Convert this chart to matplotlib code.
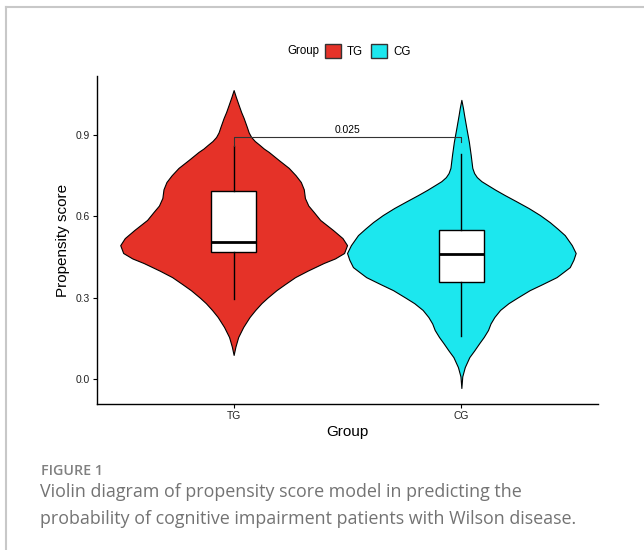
import numpy as np
import matplotlib.pyplot as plt
from matplotlib.patches import Rectangle
from matplotlib.lines import Line2D

# Groups and colours
groups = ["TG", "CG"]
colors = ["#E53228", "#1CE7EE"]

# Violin outlines: score value and half width (x units)
tg_y = [1.066, 1.040, 1.011, 0.985, 0.963, 0.930, 0.910, 0.893, 0.878, 0.865,
        0.850, 0.838, 0.808, 0.779, 0.752, 0.727, 0.700, 0.668, 0.640, 0.616,
        0.587, 0.550, 0.520, 0.494, 0.465, 0.445, 0.428, 0.400, 0.376, 0.350,
        0.328, 0.300, 0.280, 0.255, 0.229, 0.192, 0.155, 0.120, 0.089]
tg_w = [0.000, 0.010, 0.022, 0.033, 0.044, 0.058, 0.066, 0.077, 0.093, 0.112,
        0.133, 0.154, 0.198, 0.242, 0.272, 0.295, 0.308, 0.313, 0.328, 0.352,
        0.380, 0.436, 0.478, 0.498, 0.485, 0.445, 0.395, 0.325, 0.270, 0.225,
        0.188, 0.148, 0.122, 0.095, 0.070, 0.042, 0.020, 0.008, 0.000]

cg_y = [1.030, 1.000, 0.974, 0.926, 0.875, 0.827, 0.779, 0.760, 0.745, 0.730,
        0.716, 0.698, 0.679, 0.655, 0.631, 0.605, 0.579, 0.555, 0.531, 0.494,
        0.465, 0.440, 0.413, 0.395, 0.376, 0.350, 0.328, 0.300, 0.280, 0.255,
        0.229, 0.205, 0.181, 0.155, 0.133, 0.105, 0.081, 0.044, 0.010, -0.033]
cg_w = [0.000, 0.007, 0.012, 0.022, 0.033, 0.041, 0.048, 0.056, 0.068, 0.088,
        0.115, 0.150, 0.190, 0.243, 0.295, 0.345, 0.388, 0.422, 0.454, 0.485,
        0.502, 0.492, 0.476, 0.448, 0.418, 0.355, 0.300, 0.245, 0.207, 0.170,
        0.145, 0.128, 0.117, 0.098, 0.079, 0.056, 0.035, 0.015, 0.004, 0.000]

# Box plot statistics
q1 = [0.469, 0.358]
med = [0.506, 0.461]
q3 = [0.694, 0.550]
whislo = [0.295, 0.159]
whishi = [0.860, 0.830]

# Comparison bracket
p_label = "0.025"
bracket_y = 0.893
bracket_tip = [0.860, 0.875]

fig = plt.figure(figsize=(6.44, 5.50), dpi=100)

# page frame (top and left only)
fig.add_artist(Line2D([6 / 644, 1], [1 - 7 / 550, 1 - 7 / 550], color="#c8c8c8", lw=1.5))
fig.add_artist(Line2D([6 / 644, 6 / 644], [0, 1 - 7 / 550], color="#c8c8c8", lw=1.5))

ax = fig.add_axes([97 / 644, 1 - 404 / 550, 501 / 644, 328 / 550])

pos = [1, 2]
profiles = [(tg_y, tg_w), (cg_y, cg_w)]
for p, (vy, vw), c in zip(pos, profiles, colors):
    vy = np.array(vy)
    vw = np.array(vw)
    ax.fill_betweenx(vy, p - vw, p + vw, facecolor=c, edgecolor="black", lw=0.8, zorder=2)

stats = []
for i, g in enumerate(groups):
    stats.append(dict(label=g, q1=q1[i], med=med[i], q3=q3[i],
                      whislo=whislo[i], whishi=whishi[i], fliers=[]))
ax.bxp(stats, positions=pos, widths=0.2, patch_artist=True, showcaps=False,
       boxprops=dict(facecolor="white", edgecolor="black", lw=1.0),
       whiskerprops=dict(color="black", lw=1.0),
       medianprops=dict(color="black", lw=2.0),
       manage_ticks=False, zorder=3)

# bracket
ax.plot([pos[0], pos[0], pos[1], pos[1]],
        [bracket_tip[0], bracket_y, bracket_y, bracket_tip[1]],
        color="#333333", lw=0.8, zorder=4)
ax.text((pos[0] + pos[1]) / 2, bracket_y + 0.008, p_label, ha="center", va="bottom",
        fontsize=7.4, family="Liberation Sans", zorder=4)

ax.set_xlim(0.4, 2.6)
ax.set_ylim(-0.092, 1.118)
ax.set_xticks(pos)
ax.set_xticklabels(groups)
ax.set_yticks([0.0, 0.3, 0.6, 0.9])
ax.set_yticklabels(["0.0", "0.3", "0.6", "0.9"])
ax.tick_params(length=3, width=0.8, labelsize=7.4, colors="black", pad=2)
for lab in ax.get_xticklabels() + ax.get_yticklabels():
    lab.set_family("Liberation Sans")
    lab.set_color("#222222")
ax.spines["top"].set_visible(False)
ax.spines["right"].set_visible(False)
ax.spines["left"].set_linewidth(1.0)
ax.spines["bottom"].set_linewidth(1.0)
ax.set_xlabel("Group", fontsize=11, family="Liberation Sans", labelpad=3)
ax.set_ylabel("Propensity score", fontsize=11, family="Liberation Sans", labelpad=4)

# legend on top: title text then the two keys
fig.text(287 / 644, 1 - 51 / 550, "Group", fontsize=8.3, family="Liberation Sans",
         va="center", ha="left")
handles = [Rectangle((0, 0), 1, 1, facecolor=c, edgecolor="#333333", lw=1.0) for c in colors]
fig.legend(handles, groups, loc="center left", ncol=2,
           bbox_to_anchor=(325 / 644, 1 - 51 / 550), frameon=False, borderpad=0,
           borderaxespad=0, prop=dict(family="Liberation Sans", size=8.3),
           handlelength=1.39, handleheight=1.44, handletextpad=0.5, columnspacing=0.75)

# caption
fig.text(41 / 644, 1 - 475 / 550, "FIGURE 1", fontsize=10.3, color="#808080",
         family="Open Sans", weight="semibold", va="baseline")
fig.text(40 / 644, 1 - 497 / 550, "Violin diagram of propensity score model in predicting the",
         fontsize=12.9, color="#737373", family="Open Sans", va="baseline")
fig.text(40 / 644, 1 - 524 / 550, "probability of cognitive impairment patients with Wilson disease.",
         fontsize=12.9, color="#737373", family="Open Sans", va="baseline")

fig.savefig("out.png", dpi=100)
